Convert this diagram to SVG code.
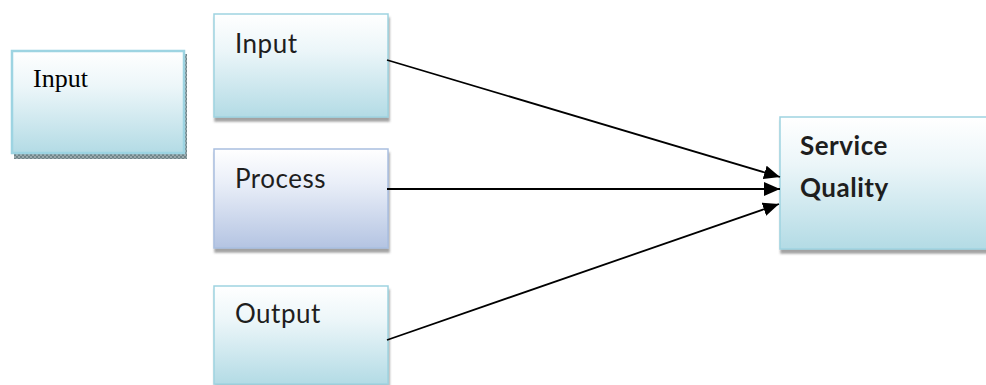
<svg xmlns="http://www.w3.org/2000/svg" width="986" height="385" viewBox="0 0 986 385">
<defs>
<linearGradient id="gBlue" x1="0" y1="0" x2="0" y2="1">
<stop offset="0" stop-color="#ffffff"/>
<stop offset="0.35" stop-color="#ecf6f9"/>
<stop offset="1" stop-color="#b3dbe5"/>
</linearGradient>
<linearGradient id="gLav" x1="0" y1="0" x2="0" y2="1">
<stop offset="0" stop-color="#ffffff"/>
<stop offset="0.35" stop-color="#e9eef8"/>
<stop offset="1" stop-color="#b4c4e2"/>
</linearGradient>
<pattern id="dots" width="4" height="4" patternUnits="userSpaceOnUse">
<rect width="4" height="4" fill="#9aa9ad"/>
<rect width="2" height="2" fill="#6f8488"/>
<rect x="2" y="2" width="2" height="2" fill="#6f8488"/>
</pattern>
<filter id="sh" x="-10%" y="-10%" width="120%" height="130%">
<feDropShadow dx="1" dy="4" stdDeviation="1.2" flood-color="#555" flood-opacity="0.55"/>
</filter>
<marker id="arr" markerUnits="userSpaceOnUse" markerWidth="17" markerHeight="14" refX="16" refY="7" orient="auto">
<path d="M0,0 L16,7 L0,14 Z" fill="#000"/>
</marker>
</defs>
<style>
.box{stroke:#9fd3e1;stroke-width:1.5;fill:url(#gBlue)}
.lav{stroke:#a9bfe0;stroke-width:1.5;fill:url(#gLav)}
.lbl{font-family:Lato,"Open Sans","Liberation Sans",sans-serif;font-size:26px;letter-spacing:0.5px;fill:#1e1e1e}
.bold{font-weight:bold}
.serif{font-family:"Liberation Serif","Times New Roman",serif;font-size:26px;fill:#000}
.conn{stroke:#000;stroke-width:1.8;fill:none;marker-end:url(#arr)}
</style>
<g id="node-input-left">
<rect x="14" y="54" width="173" height="105" fill="url(#dots)"/>
<rect x="12" y="51" width="172" height="102" fill="url(#gBlue)" stroke="#9dd4e2" stroke-width="2.5"/>
<text class="serif" x="33" y="87">Input</text>
</g>
<g id="node-input">
<rect class="box" x="214" y="14" width="174" height="103" filter="url(#sh)"/>
<text class="lbl" x="235" y="53">Input</text>
</g>
<g id="node-process">
<rect class="lav" x="214" y="149" width="174" height="99" filter="url(#sh)"/>
<text class="lbl" x="235" y="188">Process</text>
</g>
<g id="node-output">
<rect class="box" x="214" y="286" width="174" height="98" filter="url(#sh)"/>
<text class="lbl" x="235" y="323">Output</text>
</g>
<g id="node-service-quality">
<rect class="box" x="780" y="117" width="220" height="132" filter="url(#sh)"/>
<text class="lbl bold" x="800" y="155">Service</text>
<text class="lbl bold" x="800" y="197">Quality</text>
</g>
<g id="connectors">
<line class="conn" x1="387" y1="60" x2="780" y2="177"/>
<line class="conn" x1="387" y1="189" x2="780" y2="189"/>
<line class="conn" x1="387" y1="340" x2="779" y2="204"/>
</g>
</svg>
